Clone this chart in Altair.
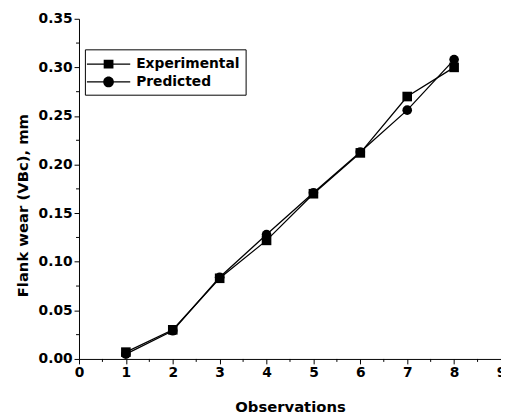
import altair as alt
import pandas as pd

observations = [1, 2, 3, 4, 5, 6, 7, 8]
experimental = [0.007, 0.030, 0.083, 0.122, 0.170, 0.212, 0.270, 0.300]
predicted = [0.005, 0.029, 0.084, 0.128, 0.171, 0.213, 0.256, 0.308]
series_names = ["Experimental", "Predicted"]
x_ticks = [0, 1, 2, 3, 4, 5, 6, 7, 8, 9]
x_minor = [0.5, 1.5, 2.5, 3.5, 4.5, 5.5, 6.5, 7.5, 8.5]
y_ticks = [0.00, 0.05, 0.10, 0.15, 0.20, 0.25, 0.30, 0.35]
y_minor = [0.025, 0.075, 0.125, 0.175, 0.225, 0.275, 0.325]

W, H = 428, 345

rows = []
for s, vals in zip(series_names, [experimental, predicted]):
    for o, v in zip(observations, vals):
        rows.append({"obs": o, "wear": v, "series": s})
df = pd.DataFrame(rows)
df_xm = pd.DataFrame({"obs": x_minor})
df_ym = pd.DataFrame({"wear": y_minor})

FONT = "DejaVu Sans"
xs = alt.Scale(domain=[0, 9], nice=False, zero=False)
ys = alt.Scale(domain=[0, 0.35], nice=False, zero=False)

axis_common = dict(
    domainColor="black", tickColor="black", labelColor="black",
    labelFont=FONT, labelFontWeight="bold", labelFontSize=14,
    titleFont=FONT, titleFontWeight="bold", titleFontSize=15, titleColor="black",
    grid=False, tickSize=5, labelPadding=2, domainWidth=1, tickWidth=1, labelFlush=False,
)

x_axis = alt.Axis(values=x_ticks, format="d", title="Observations", orient="bottom",
                  titlePadding=20, **axis_common)
y_axis = alt.Axis(values=y_ticks, format=".2f", title="Flank wear (VBc), mm", orient="left",
                  titlePadding=8, titleY=189, **axis_common)

x_enc = alt.X("obs:Q", scale=xs, axis=x_axis)
y_enc = alt.Y("wear:Q", scale=ys, axis=y_axis)

lines = alt.Chart(df).mark_line(color="black", strokeWidth=1.3).encode(
    x=x_enc, y=y_enc, detail="series:N",
)

points = alt.Chart(df).mark_point(filled=True, color="black", opacity=1, size=95).encode(
    x=x_enc, y=y_enc,
    shape=alt.Shape("series:N", scale=alt.Scale(domain=series_names, range=["square", "circle"]), legend=None),
)

# minor ticks (short, outward) placed through the shared scales
minor_x = alt.Chart(df_xm).mark_rule(color="black", strokeWidth=1).encode(
    x=x_enc, y=alt.value(H), y2=alt.value(H + 3),
)
minor_y = alt.Chart(df_ym).mark_rule(color="black", strokeWidth=1).encode(
    y=y_enc, x=alt.value(-3), x2=alt.value(0),
)

# legend symbols: line + marker as custom paths
line_part = "M-1.44,-0.075H3.44V0.075H-1.44Z"
sq_path = line_part + " M0.45,-0.5H1.55V0.5H0.45Z"
ci_path = line_part + " M1.6,0A0.6,0.6 0 1,1 0.4,0A0.6,0.6 0 1,1 1.6,0Z"

legend_layer = alt.Chart(df).transform_filter("false").mark_point(
    filled=True, color="black", opacity=1
).encode(
    shape=alt.Shape(
        "series:N",
        scale=alt.Scale(domain=series_names, range=[sq_path, ci_path]),
        legend=alt.Legend(
            title=None, orient="none", legendX=6, legendY=31,
            symbolSize=324, symbolFillColor="black", symbolStrokeColor="black",
            symbolStrokeWidth=0, symbolOpacity=1,
            labelFont=FONT, labelFontWeight="bold", labelFontSize=14, labelColor="black",
            labelOffset=28, padding=6, rowPadding=2,
            strokeColor="black", fillColor="white", cornerRadius=0,
        ),
    ),
)

chart = alt.layer(lines, points, minor_x, minor_y, legend_layer).resolve_scale(
    shape="independent"
).properties(
    width=W, height=H, autosize="none",
    padding={"left": 72, "top": 8, "right": 0, "bottom": 60},
).configure_view(stroke=None)

chart.save("out.html", embed_options={"renderer": "svg", "actions": False})
